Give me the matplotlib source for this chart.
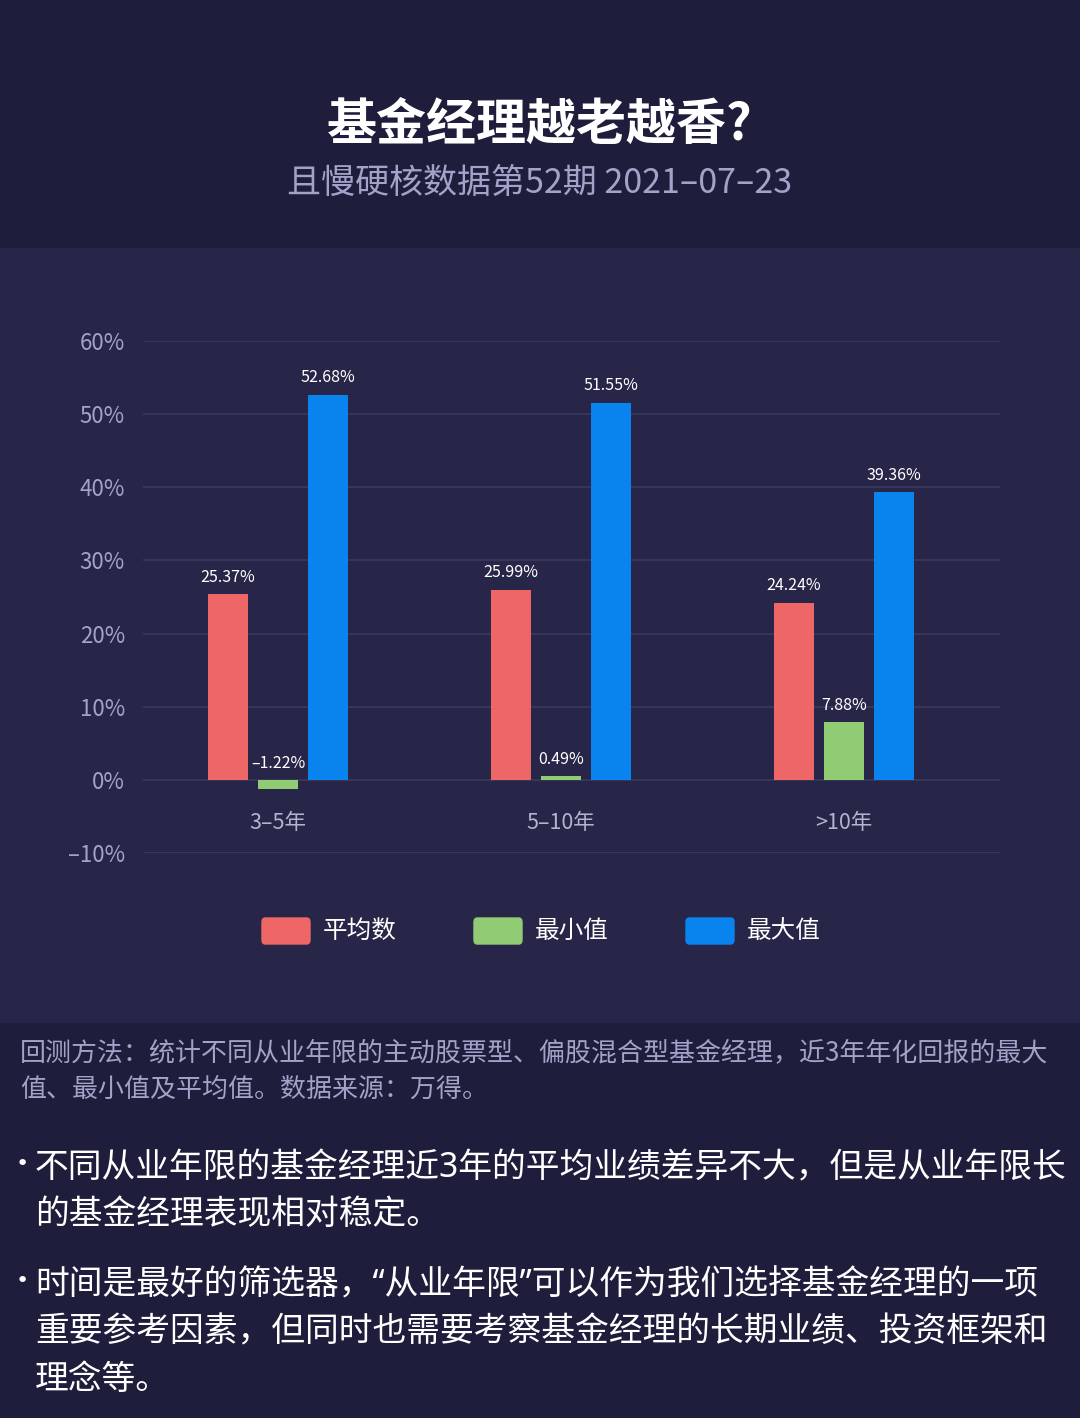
import numpy as np
import matplotlib
matplotlib.use("Agg")
from matplotlib import pyplot as plt
from matplotlib.patches import FancyBboxPatch, Rectangle

plt.rcParams['font.family'] = ['Noto Sans CJK SC', 'DejaVu Sans']

categories = ['3–5年', '5–10年', '>10年']
series_names = ['平均数', '最小值', '最大值']
avg_vals = [25.37, 25.99, 24.24]
min_vals = [-1.22, 0.49, 7.88]
max_vals = [52.68, 51.55, 39.36]
colors = ['#ee6666', '#91cc75', '#0984ef']
yticks = [-10, 0, 10, 20, 30, 40, 50, 60]

title = '基金经理越老越香?'
subtitle = '且慢硬核数据第52期 2021–07–23'
note_lines = ['回测方法：统计不同从业年限的主动股票型、偏股混合型基金经理，近3年年化回报的最大',
              '值、最小值及平均值。数据来源：万得。']
bullets = [['不同从业年限的基金经理近3年的平均业绩差异不大，但是从业年限长',
            '的基金经理表现相对稳定。'],
           ['时间是最好的筛选器，“从业年限”可以作为我们选择基金经理的一项',
            '重要参考因素，但同时也需要考察基金经理的长期业绩、投资框架和',
            '理念等。']]

W, H = 1080, 1418
fig = plt.figure(figsize=(W / 100, H / 100), dpi=100)
fig.patch.set_facecolor('#1e1d3b')

# lighter chart panel
fig.patches.append(Rectangle((0, 1 - 1022 / H), 1, (1022 - 248) / H,
                             transform=fig.transFigure, color='#272649', zorder=-10))

fig.text(0.5, 1 - 125 / H, title, color='white', fontsize=36, fontweight='bold',
         ha='center', va='center')
fig.text(0.5, 1 - 183 / H, subtitle, color='#a3a2c8', fontsize=24.5,
         ha='center', va='center')

ax = fig.add_axes([143 / W, 1 - 853 / H, (1000 - 143) / W, (853 - 341) / H])
ax.set_zorder(2)
ax.set_facecolor('none')
ax.set_ylim(-10, 60)
ax.set_xlim(-0.477, 2.551)

x = np.arange(len(categories))
width = 0.141
offset = 0.177
all_vals = [avg_vals, min_vals, max_vals]
for i, vals in enumerate(all_vals):
    xs = x + (i - 1) * offset
    ax.bar(xs, vals, width=width, color=colors[i], zorder=3)
    for xi, v in zip(xs, vals):
        y = max(v, 0)
        ax.annotate(f'{v:.2f}%'.replace('-', '–'), (xi, y), xytext=(0, 6),
                    textcoords='offset points', ha='center', va='bottom',
                    color='white', fontsize=11.5)

for xi, c in zip(x, categories):
    ax.annotate(c, (xi, 0), xytext=(0, -31), textcoords='offset points',
                ha='center', va='center', color='#b4b3d2', fontsize=15.5)

ax.set_yticks(yticks)
ax.set_yticklabels([f'{t}%'.replace('-', '–') for t in yticks])
ax.tick_params(axis='y', length=0, pad=13, colors='#a3a2c8', labelsize=16)
ax.set_xticks([])
ax.grid(axis='y', color='#3a3a5e', linewidth=1.2, zorder=0)
for s in ax.spines.values():
    s.set_visible(False)

# legend
leg_x = [262, 474, 686]
for lx, name, col in zip(leg_x, series_names, colors):
    fig.patches.append(FancyBboxPatch((lx / W, 1 - 944 / H), 48 / W, 26 / H,
                                      boxstyle='round,pad=0,rounding_size=0.003',
                                      transform=fig.transFigure, color=col))
    fig.text((lx + 61) / W, 1 - 931 / H, name, color='white', fontsize=17.7,
             ha='left', va='center')

for k, line in enumerate(note_lines):
    fig.text(20 / W, 1 - (1054 + 35 * k) / H, line, color='#a3a2c8', fontsize=18.7,
             ha='left', va='center')

ys = [[1168, 1215], [1285, 1332, 1380]]
for blines, yl in zip(bullets, ys):
    fig.text(16 / W, 1 - (yl[0] - 4) / H, '•', color='white', fontsize=16,
             family='DejaVu Sans', ha='left', va='center')
    for line, yy in zip(blines, yl):
        fig.text(35 / W, 1 - yy / H, line, color='white', fontsize=24.3,
                 family=['Noto Sans', 'Noto Sans CJK SC'], ha='left', va='center')

fig.savefig('out.png', dpi=100, facecolor=fig.get_facecolor())
